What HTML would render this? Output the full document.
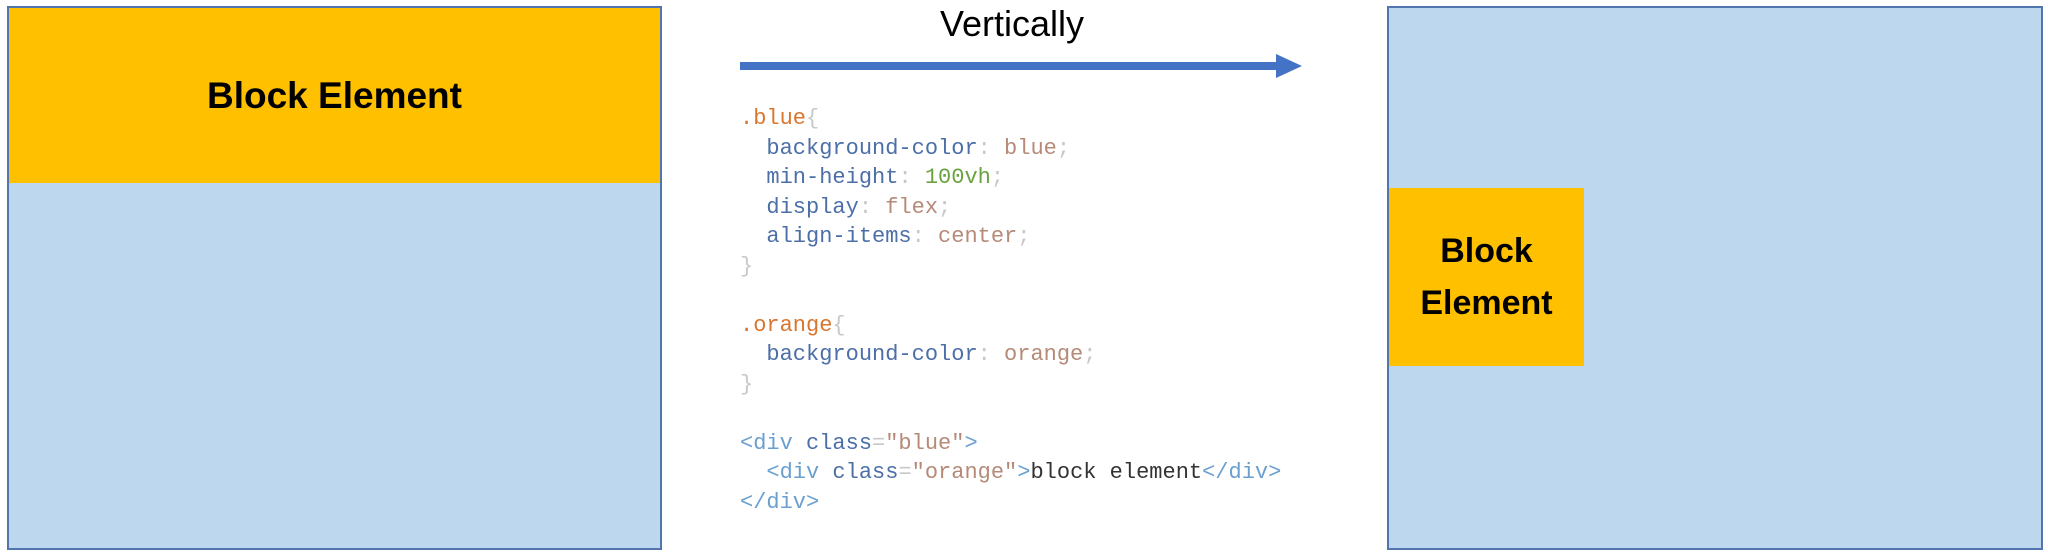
<!DOCTYPE html>
<html><head><meta charset="utf-8"><style>
body{margin:0;width:2048px;height:555px;background:#fff;position:relative;overflow:hidden;font-family:"Liberation Sans",sans-serif}
.box{position:absolute;background:#BDD7EE;border:2px solid #5176AE;box-sizing:border-box}
.or{position:absolute;background:#FFC000;font-weight:bold;color:#000;display:flex;align-items:center;justify-content:center;text-align:center}
.code{position:absolute;left:740px;top:104px;font-family:"Liberation Mono",monospace;font-size:22px;line-height:29.5px;white-space:pre;color:#333}
.s{color:#D9762E}.p{color:#4C6FA8}.v{color:#B58A78}.n{color:#6AA33F}.g{color:#C8C8C8}.t{color:#6A9FD0}.k{color:#4C6FA8}
</style></head><body>
<div class="box" style="left:7px;top:6px;width:655px;height:544px"></div>
<div class="or" style="left:9px;top:8px;width:651px;height:175px;font-size:37px">Block Element</div>
<div style="position:absolute;left:940px;top:3px;font-size:36px;color:#000">Vertically</div>
<div style="position:absolute;left:740px;top:62px;width:540px;height:8px;background:#4472C4"></div>
<svg style="position:absolute;left:1276px;top:54px" width="28" height="25"><polygon points="0,0 26,12 0,24" fill="#4472C4"/></svg>
<div class="code"><span class="s">.blue</span><span class="g">{</span>
  <span class="p">background-color</span><span class="g">:</span> <span class="v">blue</span><span class="g">;</span>
  <span class="p">min-height</span><span class="g">:</span> <span class="n">100vh</span><span class="g">;</span>
  <span class="p">display</span><span class="g">:</span> <span class="v">flex</span><span class="g">;</span>
  <span class="p">align-items</span><span class="g">:</span> <span class="v">center</span><span class="g">;</span>
<span class="g">}</span>

<span class="s">.orange</span><span class="g">{</span>
  <span class="p">background-color</span><span class="g">:</span> <span class="v">orange</span><span class="g">;</span>
<span class="g">}</span>

<span class="t">&lt;div</span> <span class="k">class</span><span class="g">=</span><span class="v">"blue"</span><span class="t">&gt;</span>
  <span class="t">&lt;div</span> <span class="k">class</span><span class="g">=</span><span class="v">"orange"</span><span class="t">&gt;</span>block element<span class="t">&lt;/div&gt;</span>
<span class="t">&lt;/div&gt;</span></div>
<div class="box" style="left:1387px;top:6px;width:656px;height:544px"></div>
<div class="or" style="left:1389px;top:188px;width:195px;height:178px;font-size:34px;line-height:52px">Block<br>Element</div>
</body></html>
